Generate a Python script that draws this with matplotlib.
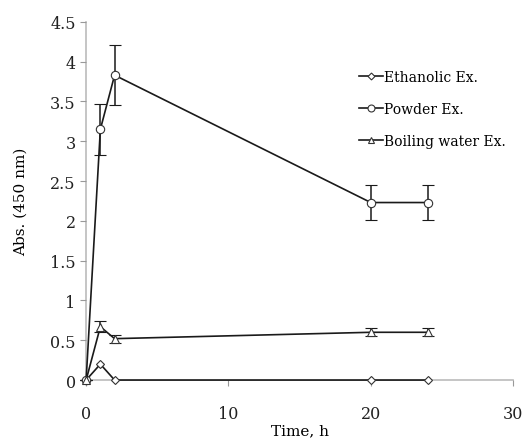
import matplotlib.pyplot as plt
from matplotlib.lines import Line2D

time = [0, 1, 2, 20, 24]
ethanolic = [0, 0.2, 0, 0, 0]
powder = [0, 3.15, 3.83, 2.23, 2.23]
powder_err = [0, 0.32, 0.38, 0.22, 0.22]
boiling = [0, 0.67, 0.52, 0.6, 0.6]
boiling_err = [0, 0.07, 0.05, 0.05, 0.05]
labels = ['Ethanolic Ex.', 'Powder Ex.', 'Boiling water Ex.']

plt.rcParams['font.family'] = ['DejaVu Serif']

fig = plt.figure(figsize=(5.22, 4.39), dpi=100)
ax = fig.add_axes([0.165, 0.132, 0.818, 0.816])

common = dict(color='#1a1a1a', lw=1.2, mfc='white', mec='#333333', mew=0.8)
ax.plot(time, ethanolic, marker='D', ms=4, **common)
ax.errorbar(time, powder, yerr=powder_err, marker='o', ms=6, capsize=4, elinewidth=1.1,
            ecolor='#1a1a1a', **common)
ax.errorbar(time, boiling, yerr=boiling_err, marker='^', ms=6, capsize=4, elinewidth=1.1,
            ecolor='#1a1a1a', **common)

ax.set_xlim(0, 30)
ax.set_ylim(0, 4.5)
ax.set_xticks([0, 10, 20, 30])
ax.set_yticks([0, 0.5, 1, 1.5, 2, 2.5, 3, 3.5, 4, 4.5])
ax.set_yticklabels(['0', '0.5', '1', '1.5', '2', '2.5', '3', '3.5', '4', '4.5'])
for s in ['top', 'right']:
    ax.spines[s].set_visible(False)
for s in ['left', 'bottom']:
    ax.spines[s].set_color('#bbbbbb')
    ax.spines[s].set_linewidth(1.2)
    ax.spines[s].set_zorder(0)
ax.tick_params(axis='both', colors='#999999', labelcolor='#222222', labelsize=11.5, length=4)
ax.tick_params(axis='x', pad=14)
for m in ax.lines:
    m.set_clip_on(False)
for c in ax.collections:
    c.set_clip_on(False)

ax.set_xlabel('Time, h', fontsize=11, labelpad=1)
ax.set_ylabel('Abs. (450 nm)', fontsize=11, labelpad=16)

handles = [Line2D([], [], marker=mk, ms=ms, **common) for mk, ms in [('D', 3.5), ('o', 5), ('^', 5)]]
ax.legend(handles, labels, loc='upper left', bbox_to_anchor=(0.61, 0.9), frameon=False, fontsize=10,
          handlelength=1.7, handletextpad=0.1, labelspacing=1.3)

fig.savefig('out.png', dpi=100)
